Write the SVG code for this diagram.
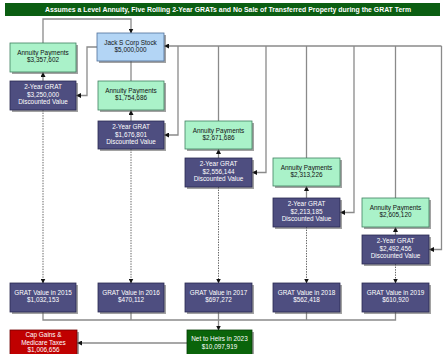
<svg xmlns="http://www.w3.org/2000/svg" width="443" height="354" viewBox="0 0 443 354">
<defs>
<marker id="ah" markerWidth="5" markerHeight="5" refX="4.5" refY="2.5" orient="auto" markerUnits="userSpaceOnUse">
<path d="M0,0 L5,2.5 L0,5 Z" fill="#111"/>
</marker>
</defs>
<style>
text{font-family:"Liberation Sans",Arial,sans-serif;font-size:6.4px;text-anchor:middle}
.sh{fill:#555;opacity:0.55}
.jack{fill:#b3d5f5;stroke:#4f6f9a;stroke-width:0.8}
.ann{fill:#aaf2c9;stroke:#3f8060;stroke-width:0.8}
.grat{fill:#4e4e80;stroke:#2a2a50;stroke-width:0.8}
.net{fill:#0a640a;stroke:#053d05;stroke-width:0.8}
.cap{fill:#c00000;stroke:#700000;stroke-width:0.8}
.w{fill:#ffffff}
.k{fill:#111111}
.ln{fill:none;stroke:#8a8a8a;stroke-width:1.3}
.dl{fill:none;stroke:#666;stroke-width:1;stroke-dasharray:1.4,1.2}
.ar{marker-end:url(#ah)}
</style>
<rect width="443" height="354" fill="#ffffff"/>
<g id="title">
<rect x="5" y="3" width="435" height="13" fill="#0b5e12"/>
<text x="228" y="12" class="w" style="font-weight:bold;font-size:6.6px" textLength="366" lengthAdjust="spacingAndGlyphs">Assumes a Level Annuity, Five Rolling 2-Year GRATs and No Sale of Transferred Property during the GRAT Term</text>
</g>
<g id="connectors">
<path class="ln ar" d="M43,43 V19 H131 V33"/>
<path class="ln ar" d="M97,47 H87 V95.5 H76.5"/>
<path class="ln ar" d="M43,81 V72.5"/>
<path class="ln" d="M131,81 V61"/>
<path class="ln ar" d="M131,121 V110.5"/>
<path class="ln ar" d="M441.5,46 H164.5"/>
<path class="ln ar" d="M178,46 V135 H164.5"/>
<path class="ln" d="M218.5,121 V46"/>
<path class="ln ar" d="M218.5,158 V149.5"/>
<path class="ln ar" d="M266,46 V172.5 H252.5"/>
<path class="ln" d="M306.5,158 V46"/>
<path class="ln ar" d="M306.5,198 V186.5"/>
<path class="ln ar" d="M354,46 V212.5 H340.5"/>
<path class="ln" d="M395.5,198 V46"/>
<path class="ln ar" d="M395.5,235 V227.5"/>
<path class="ln ar" d="M441.5,46 V249.5 H429.5"/>
<path class="dl ar" d="M43,110 V283"/>
<path class="dl ar" d="M131,149 V283"/>
<path class="dl ar" d="M218.5,187 V283"/>
<path class="dl ar" d="M306.5,227 V283"/>
<path class="dl ar" d="M395.5,264 V283"/>
<path class="ln" d="M43,312 V320 H395.5 V312 M131,312 V320 M306.5,312 V320"/>
<path class="ln ar" d="M218.5,312 V330"/>
<path class="ln ar" d="M187,343 H77.5"/>
</g>
<g id="jack">
<rect class="sh" x="99" y="35" width="67" height="28"/>
<rect class="jack" x="97" y="33" width="67" height="28"/>
<text x="130.5" y="45" class="k">Jack S Corp Stock</text>
<text x="130.5" y="52" class="k">$5,000,000</text>
</g>
<g id="ann1">
<rect class="sh" x="12" y="45" width="66" height="29"/>
<rect class="ann" x="10" y="43" width="66" height="29"/>
<text x="43" y="55" class="k">Annuity Payments</text>
<text x="43" y="62" class="k">$3,357,602</text>
</g>
<g id="grat1">
<rect class="sh" x="12" y="83" width="66" height="29"/>
<rect class="grat" x="10" y="81" width="66" height="29"/>
<text x="43" y="89" class="w">2-Year GRAT</text>
<text x="43" y="96.5" class="w">$3,250,000</text>
<text x="43" y="104" class="w">Discounted Value</text>
</g>
<g id="ann2">
<rect class="sh" x="100" y="83" width="66" height="29"/>
<rect class="ann" x="98" y="81" width="66" height="29"/>
<text x="131" y="93" class="k">Annuity Payments</text>
<text x="131" y="100" class="k">$1,754,686</text>
</g>
<g id="grat2">
<rect class="sh" x="100" y="123" width="66" height="28"/>
<rect class="grat" x="98" y="121" width="66" height="28"/>
<text x="131" y="129" class="w">2-Year GRAT</text>
<text x="131" y="136.5" class="w">$1,676,801</text>
<text x="131" y="144" class="w">Discounted Value</text>
</g>
<g id="ann3">
<rect class="sh" x="187" y="123" width="67" height="28"/>
<rect class="ann" x="185" y="121" width="67" height="28"/>
<text x="218.5" y="132.5" class="k">Annuity Payments</text>
<text x="218.5" y="139.5" class="k">$2,671,686</text>
</g>
<g id="grat3">
<rect class="sh" x="187" y="160" width="67" height="29"/>
<rect class="grat" x="185" y="158" width="67" height="29"/>
<text x="218.5" y="166" class="w">2-Year GRAT</text>
<text x="218.5" y="173.5" class="w">$2,556,144</text>
<text x="218.5" y="181" class="w">Discounted Value</text>
</g>
<g id="ann4">
<rect class="sh" x="275" y="160" width="67" height="28"/>
<rect class="ann" x="273" y="158" width="67" height="28"/>
<text x="306.5" y="169.5" class="k">Annuity Payments</text>
<text x="306.5" y="176.5" class="k">$2,313,226</text>
</g>
<g id="grat4">
<rect class="sh" x="275" y="200" width="67" height="29"/>
<rect class="grat" x="273" y="198" width="67" height="29"/>
<text x="306.5" y="206" class="w">2-Year GRAT</text>
<text x="306.5" y="213.5" class="w">$2,213,185</text>
<text x="306.5" y="221" class="w">Discounted Value</text>
</g>
<g id="ann5">
<rect class="sh" x="364" y="200" width="67" height="29"/>
<rect class="ann" x="362" y="198" width="67" height="29"/>
<text x="395.5" y="210" class="k">Annuity Payments</text>
<text x="395.5" y="217" class="k">$2,605,120</text>
</g>
<g id="grat5">
<rect class="sh" x="364" y="237" width="67" height="29"/>
<rect class="grat" x="362" y="235" width="67" height="29"/>
<text x="395.5" y="243" class="w">2-Year GRAT</text>
<text x="395.5" y="250.5" class="w">$2,492,456</text>
<text x="395.5" y="258" class="w">Discounted Value</text>
</g>
<g id="val2015">
<rect class="sh" x="12" y="285" width="66" height="29"/>
<rect class="grat" x="10" y="283" width="66" height="29"/>
<text x="43" y="295" class="w">GRAT Value in 2015</text>
<text x="43" y="302" class="w">$1,032,153</text>
</g>
<g id="val2016">
<rect class="sh" x="100" y="285" width="66" height="29"/>
<rect class="grat" x="98" y="283" width="66" height="29"/>
<text x="131" y="295" class="w">GRAT Value in 2016</text>
<text x="131" y="302" class="w">$470,112</text>
</g>
<g id="val2017">
<rect class="sh" x="187" y="285" width="67" height="29"/>
<rect class="grat" x="185" y="283" width="67" height="29"/>
<text x="218.5" y="295" class="w">GRAT Value in 2017</text>
<text x="218.5" y="302" class="w">$697,272</text>
</g>
<g id="val2018">
<rect class="sh" x="275" y="285" width="67" height="29"/>
<rect class="grat" x="273" y="283" width="67" height="29"/>
<text x="306.5" y="295" class="w">GRAT Value in 2018</text>
<text x="306.5" y="302" class="w">$562,418</text>
</g>
<g id="val2019">
<rect class="sh" x="364" y="285" width="67" height="29"/>
<rect class="grat" x="362" y="283" width="67" height="29"/>
<text x="395.5" y="295" class="w">GRAT Value in 2019</text>
<text x="395.5" y="302" class="w">$610,920</text>
</g>
<g id="cap">
<rect class="sh" x="12" y="332" width="67" height="28"/>
<rect class="cap" x="10" y="330" width="67" height="28"/>
<text x="43.5" y="337" class="w">Cap Gains &amp;</text>
<text x="43.5" y="344.5" class="w">Medicare Taxes</text>
<text x="43.5" y="352" class="w">$1,006,656</text>
</g>
<g id="net">
<rect class="sh" x="189" y="332" width="65" height="28"/>
<rect class="net" x="187" y="330" width="65" height="28"/>
<text x="219.5" y="341" class="w">Net to Heirs in 2023</text>
<text x="219.5" y="348.5" class="w">$10,097,919</text>
</g>
</svg>
